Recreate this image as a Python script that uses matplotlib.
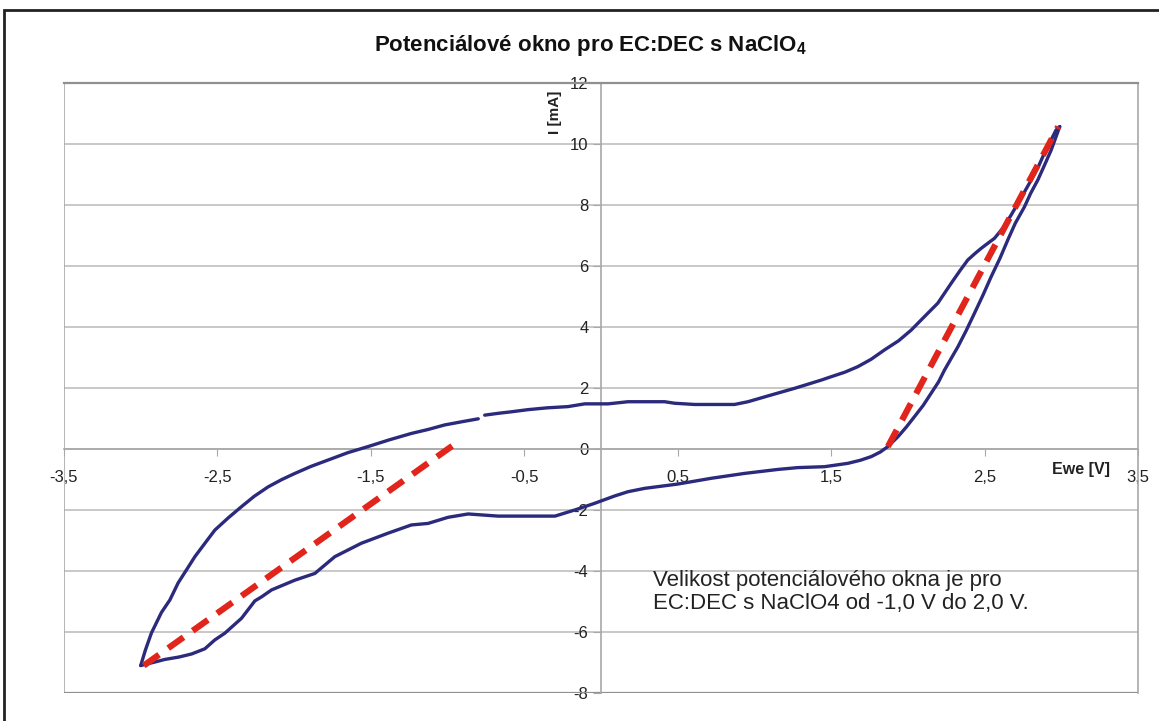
import numpy as np
import matplotlib
matplotlib.use("Agg")
import matplotlib.pyplot as plt
from matplotlib.patches import Rectangle
from matplotlib.ticker import FixedLocator, FuncFormatter

plt.rcParams['font.family'] = ['Liberation Sans', 'DejaVu Sans']
plt.rcParams['mathtext.fontset'] = 'custom'
plt.rcParams['mathtext.rm'] = 'Liberation Sans'
plt.rcParams['mathtext.bf'] = 'Liberation Sans:bold'

# CV curve (E in V, I in mA)
# forward scan: from the negative vertex up to the positive vertex
e_up = [-3.00, -2.97, -2.93, -2.865, -2.81, -2.756, -2.70, -2.647, -2.58, -2.517,
        -2.43, -2.343, -2.26, -2.169, -2.08, -1.995, -1.89, -1.778, -1.65, -1.518,
        -1.38, -1.236, -1.127, -1.018, -0.90, -0.80, np.nan, -0.758, -0.67, -0.584,
        -0.476, -0.35, -0.215, -0.106, 0.046, 0.176, 0.415, 0.48, 0.61, 0.87,
        0.958, 1.088, 1.262, 1.436, 1.50, 1.59, 1.674, 1.76, 1.848, 1.94,
        2.022, 2.108, 2.195, 2.282, 2.34, 2.391, 2.44, 2.478, 2.52, 2.565,
        2.62, 2.673, 2.74, 2.804, 2.850, 2.890, 2.930, 2.966, 2.99]
i_up = [-7.10, -6.60, -6.03, -5.36, -4.95, -4.39, -3.95, -3.53, -3.08, -2.66,
        -2.26, -1.89, -1.55, -1.24, -1.00, -0.80, -0.57, -0.36, -0.12, 0.08,
        0.30, 0.51, 0.64, 0.79, 0.90, 0.99, np.nan, 1.11, 1.17, 1.22,
        1.29, 1.35, 1.39, 1.48, 1.48, 1.55, 1.55, 1.50, 1.46, 1.46,
        1.55, 1.74, 1.99, 2.26, 2.37, 2.52, 2.70, 2.94, 3.25, 3.55,
        3.90, 4.34, 4.78, 5.43, 5.85, 6.20, 6.42, 6.58, 6.74, 6.91,
        7.25, 7.67, 8.25, 8.82, 9.25, 9.70, 10.10, 10.46, 10.57]
# reverse scan: from the positive vertex back to the negative vertex
e_down = [2.99, 2.934, 2.89, 2.847, 2.80, 2.76, 2.70, 2.651, 2.60, 2.543,
          2.49, 2.434, 2.38, 2.326, 2.28, 2.239, 2.20, 2.152, 2.10, 2.043,
          1.99, 1.935, 1.87, 1.82, 1.761, 1.69, 1.609, 1.457, 1.283, 1.153,
          0.936, 0.719, 0.50, 0.285, 0.176, 0.089, -0.041, -0.171, -0.30, -0.50,
          -0.671, -0.866, -0.997, -1.127, -1.236, -1.388, -1.562, -1.735, -1.865, -1.995,
          -2.147, -2.213, -2.256, -2.343, -2.452, -2.517, -2.582, -2.668, -2.75, -2.843,
          -2.92, -3.00]
i_down = [10.57, 9.80, 9.30, 8.82, 8.38, 7.94, 7.40, 6.85, 6.25, 5.65,
          5.05, 4.45, 3.88, 3.35, 2.95, 2.59, 2.20, 1.83, 1.43, 1.06,
          0.72, 0.40, 0.08, -0.10, -0.25, -0.37, -0.47, -0.58, -0.61, -0.67,
          -0.80, -0.96, -1.15, -1.29, -1.40, -1.54, -1.78, -2.00, -2.20, -2.20,
          -2.20, -2.13, -2.24, -2.44, -2.49, -2.76, -3.09, -3.53, -4.08, -4.30,
          -4.62, -4.85, -4.98, -5.55, -6.04, -6.26, -6.55, -6.72, -6.82, -6.90,
          -7.00, -7.10]

# tangent lines (red dashed)
tan_left_e = [-2.98, -0.97]
tan_left_i = [-7.10, 0.10]
tan_right_e = [1.87, 2.98]
tan_right_i = [0.08, 10.57]

x_ticks = [-3.5, -2.5, -1.5, -0.5, 0.5, 1.5, 2.5, 3.5]
y_ticks = [-8, -6, -4, -2, 0, 2, 4, 6, 8, 10, 12]

title = "Potenciálové okno pro EC:DEC s NaClO$_\\mathbf{4}$"
note = "Velikost potenciálového okna je pro\nEC:DEC s NaClO4 od -1,0 V do 2,0 V."

W, H = 1159, 721
fig = plt.figure(figsize=(W / 100, H / 100), dpi=100)
ax = fig.add_axes([64 / W, 28 / H, 1074 / W, 610 / H])

ax.set_xlim(-3.5, 3.5)
ax.set_ylim(-8, 12)

grid_c = '#c4c4c4'
axis_c = '#a8a8a8'

ax.yaxis.set_major_locator(FixedLocator(y_ticks))
ax.xaxis.set_major_locator(FixedLocator(x_ticks))
ax.yaxis.grid(True, color=grid_c, lw=1.3)
ax.set_axisbelow(True)

# axes crossing at zero
ax.spines['left'].set_position(('data', 0))
ax.spines['bottom'].set_position(('data', 0))
for s in ['left', 'bottom']:
    ax.spines[s].set_color(axis_c)
    ax.spines[s].set_linewidth(1.2)
ax.spines['top'].set_color('#909090')
ax.spines['top'].set_linewidth(1.6)
ax.spines['right'].set_color(axis_c)
ax.spines['right'].set_linewidth(1.2)
# remaining sides of the plot box
ax.axvline(-3.5, color=axis_c, lw=1.2)
ax.axhline(-8, color='#909090', lw=1.6)

comma = FuncFormatter(lambda v, p: ('%g' % v).replace('.', ','))
ax.xaxis.set_major_formatter(comma)
ax.yaxis.set_major_formatter(comma)
ax.tick_params(axis='x', direction='out', length=5, color=axis_c, pad=10,
               labelsize=12, labelcolor='#222222')
ax.tick_params(axis='y', direction='out', length=6, color=axis_c, pad=3,
               labelsize=12, labelcolor='#222222')

ax.plot(e_up, i_up, color='#2b2a7c', lw=2.4, solid_capstyle='round', zorder=3)
ax.plot(e_down, i_down, color='#2b2a7c', lw=2.4, solid_capstyle='round', zorder=3)
ax.plot(tan_left_e, tan_left_i, color='#e1251b', lw=4.5, ls=(0, (3, 1.8)), zorder=4)
ax.plot(tan_right_e, tan_right_i, color='#e1251b', lw=4.5, ls=(0, (3, 1.8)), zorder=4)

ax.text(0.947, 0.366, "Ewe [V]", transform=ax.transAxes, ha='center', va='center',
        fontsize=11.5, fontweight='bold', color='#222222')
ax.text(0.457, 0.952, "I [mA]", transform=ax.transAxes, ha='center', va='center',
        rotation=90, fontsize=11, fontweight='bold', color='#222222')
ax.text(0.548, 0.166, note, transform=ax.transAxes, ha='left', va='center',
        fontsize=16, color='#222222', linespacing=1.12)

fig.text(590 / W, 1 - 45 / H, title, ha='center', va='center', fontsize=16,
         fontweight='bold', color='#111111')

# outer frame of the chart
fig.patches.append(Rectangle((3.5 / W, -0.1), 1.2, 1.1 - 10 / H, transform=fig.transFigure,
                             fill=False, edgecolor='#222222', lw=2))

fig.savefig('out.png', dpi=100)
